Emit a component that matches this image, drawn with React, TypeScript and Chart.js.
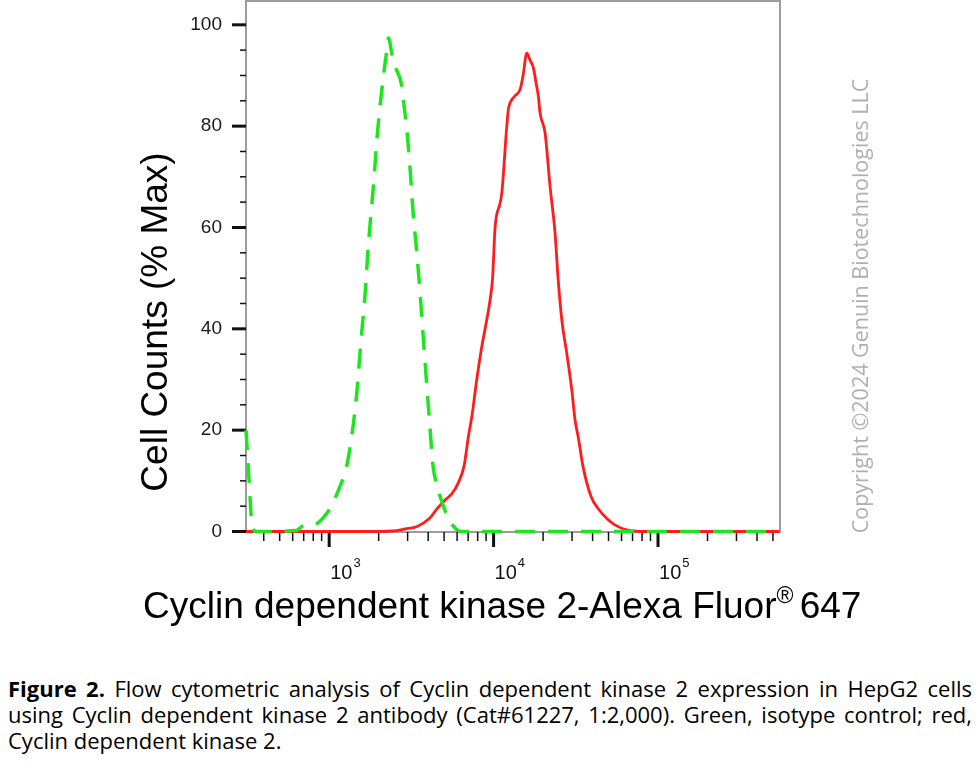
import { useEffect, useRef } from "react";
import { Chart, registerables } from "chart.js";

Chart.register(...registerables);

// fluorescence intensity (log axis) and % of max counts
const redX = [
  312, 1500, 2450, 2900, 3430, 4050, 4535, 5070, 5590, 6080, 6620, 7030, 7400,
  7900, 8480, 9090, 9520, 9860, 10210, 10950, 11220, 12030, 12300, 12600, 13510,
  14490, 15110, 15920, 16670, 17460, 18130, 18720, 19170, 20560, 22050, 23650,
  24670, 25980, 27860, 29880, 31290, 32770, 35000, 39150, 43780, 48970, 54630,
  64450, 79930, 552000,
];
const redY = [
  0, 0, 0.1, 0.5, 1.0, 2.5, 4.5, 6.2, 7.5, 9.5, 13, 18.8, 23, 30, 36.5, 41.8,
  45.7, 50, 60, 64.8, 66.8, 80, 83.3, 84.6, 86, 87.2, 90, 94.4, 93, 91.5, 88.5,
  85.9, 82.6, 78.7, 68.1, 58.9, 50, 41.8, 35.2, 28, 22, 18.5, 12.8, 6.9, 4.3,
  2.5, 1.3, 0.3, 0, 0,
];

const greenX = [
  312, 326, 340, 360, 630, 695, 822, 907, 1014, 1134, 1269, 1342, 1459, 1565,
  1655, 1726, 1800, 1877, 1958, 2071, 2159, 2243, 2294, 2415, 2519, 2767, 2857,
  2967, 3108, 3240, 3413, 3573, 3780, 4053, 4287, 4535, 4797, 5350, 5834, 6310,
  552000,
];
const greenY = [
  20, 10, 1, 0, 0.2, 1.1, 1.4, 2.5, 4.6, 8, 12.5, 16.8, 26, 38, 47, 56, 63, 70,
  78, 86, 91, 95, 97.4, 94, 91.8, 87.9, 83.9, 79.3, 71.4, 62.9, 55, 47, 36, 22.8,
  12.8, 9, 6.3, 2.3, 0.7, 0, 0,
];

const xMajorTicks = [1000, 10000, 100000];
const xTickExponents = ["3", "4", "5"];
const xMinorTicks = [
  400, 500, 600, 700, 800, 900, 2000, 3000, 4000, 5000, 6000, 7000, 8000, 9000,
  20000, 30000, 40000, 50000, 60000, 70000, 80000, 90000, 200000, 300000,
  400000, 500000,
];
const yTickValues = [0, 20, 40, 60, 80, 100];
const yMinorTicks = [5, 10, 15, 25, 30, 35, 45, 50, 55, 65, 70, 75, 85, 90, 95];

const yTitle = "Cell Counts (% Max)";
const xTitle = ["Cyclin dependent kinase 2-Alexa Fluor", "®", " 647"];
const copyright = "Copyright ©2024 Genuin Biotechnologies LLC";

const SANS = '"Liberation Sans", Arial, sans-serif';

const decorPlugin = {
  id: "decor",
  beforeDatasetsDraw(chart: any) {
    const { ctx, chartArea: a, scales } = chart;
    const xs = scales.x;
    const ys = scales.y;
    ctx.save();
    ctx.strokeStyle = "#9c9c9c";
    ctx.lineWidth = 2;
    ctx.strokeRect(a.left, a.top, a.right - a.left, a.bottom - a.top);

    ctx.strokeStyle = "#111";
    const tick = (x1: number, y1: number, x2: number, y2: number, w: number) => {
      ctx.lineWidth = w;
      ctx.beginPath();
      ctx.moveTo(x1, y1);
      ctx.lineTo(x2, y2);
      ctx.stroke();
    };
    yTickValues.forEach((v) => {
      const py = ys.getPixelForValue(v);
      tick(a.left - 14, py, a.left, py, 3);
    });
    yMinorTicks.forEach((v) => {
      const py = ys.getPixelForValue(v);
      tick(a.left - 6, py, a.left, py, 1.5);
    });
    xMajorTicks.forEach((v, i) => {
      const px = xs.getPixelForValue(v);
      tick(px, a.bottom, px, a.bottom + 15, 3);
      ctx.fillStyle = "#111";
      ctx.textAlign = "left";
      ctx.textBaseline = "alphabetic";
      ctx.font = `20px ${SANS}`;
      ctx.fillText("10", px + 1, a.bottom + 47);
      const w = ctx.measureText("10").width;
      ctx.font = `13px ${SANS}`;
      ctx.fillText(xTickExponents[i], px + 2 + w, a.bottom + 35);
    });
    xMinorTicks.forEach((v) => {
      const px = xs.getPixelForValue(v);
      tick(px, a.bottom, px, a.bottom + 9, 1.5);
    });
    ctx.restore();
  },
  afterDraw(chart: any) {
    const { ctx } = chart;
    ctx.save();
    ctx.fillStyle = "#000";
    ctx.textBaseline = "alphabetic";

    // y title
    ctx.save();
    ctx.translate(167, 322);
    ctx.rotate(-Math.PI / 2);
    ctx.font = `37px ${SANS}`;
    ctx.textAlign = "center";
    ctx.fillText(yTitle, 0, 0);
    ctx.restore();

    // x title with superscript
    ctx.textAlign = "left";
    let x = 143;
    ctx.font = `37px ${SANS}`;
    ctx.fillText(xTitle[0], x, 618);
    x += ctx.measureText(xTitle[0]).width;
    ctx.font = `23px ${SANS}`;
    ctx.fillText(xTitle[1], x, 603);
    x += ctx.measureText(xTitle[1]).width;
    ctx.font = `37px ${SANS}`;
    ctx.fillText(xTitle[2], x - 4, 618);

    // copyright
    ctx.save();
    ctx.translate(868, 306);
    ctx.rotate(-Math.PI / 2);
    ctx.font = '21.5px "Open Sans", sans-serif';
    ctx.fillStyle = "#b0b0b0";
    ctx.textAlign = "center";
    ctx.fillText(copyright, 0, 0);
    ctx.restore();

    ctx.restore();
  },
};

function FlowHistogram() {
  const canvasRef = useRef<HTMLCanvasElement | null>(null);
  const chartRef = useRef<Chart | null>(null);

  useEffect(() => {
    const canvas = canvasRef.current;
    if (!canvas) {
      return;
    }

    chartRef.current?.destroy();

    chartRef.current = new Chart(canvas, {
      type: "line",
      data: {
        datasets: [
          {
            label: "Isotype control",
            data: greenX.map((x, i) => ({ x, y: greenY[i] })),
            borderColor: "#1ee61e",
            borderWidth: 3.5,
            borderDash: [20, 13],
            pointRadius: 0,
            cubicInterpolationMode: "monotone",
            clip: 4,
          },
          {
            label: "Cyclin dependent kinase 2",
            data: redX.map((x, i) => ({ x, y: redY[i] })),
            borderColor: "#ff1c1c",
            borderWidth: 2.8,
            pointRadius: 0,
            cubicInterpolationMode: "monotone",
            clip: 4,
          },
        ],
      },
      options: {
        animation: false,
        responsive: true,
        maintainAspectRatio: false,
        layout: {
          padding: { left: 0, top: 1, right: 200, bottom: 0 },
        },
        plugins: {
          legend: { display: false },
          tooltip: { enabled: false },
        },
        scales: {
          x: {
            type: "logarithmic",
            min: 312,
            max: 552000,
            grid: { display: false, drawTicks: false },
            border: { display: false },
            ticks: { display: false },
            afterBuildTicks: (scale: any) => {
              scale.ticks = xMajorTicks.map((value) => ({ value }));
            },
            afterFit: (scale: any) => {
              scale.height = 108;
              scale.paddingLeft = 0;
              scale.paddingRight = 0;
            },
          },
          y: {
            type: "linear",
            min: -0.1,
            max: 104.7,
            grid: { display: false, drawTicks: false },
            border: { display: false },
            ticks: {
              padding: 24,
              color: "#1a1a1a",
              font: { family: SANS, size: 19 },
            },
            afterBuildTicks: (scale: any) => {
              scale.ticks = yTickValues.map((value) => ({ value }));
            },
            afterFit: (scale: any) => {
              scale.width = 246;
              scale.paddingTop = 0;
              scale.paddingBottom = 0;
            },
          },
        },
      },
      plugins: [decorPlugin],
    });

    return () => {
      chartRef.current?.destroy();
      chartRef.current = null;
    };
  }, []);

  return (
    <div style={{ position: "absolute", left: 0, top: 0, width: 980, height: 640 }}>
      <canvas ref={canvasRef} />
    </div>
  );
}

export default function App() {
  const line = {
    whiteSpace: "nowrap" as const,
    height: 26,
  };
  return (
    <div
      style={{
        position: "fixed",
        left: 0,
        top: 0,
        width: 980,
        height: 771,
        background: "#fff",
        overflow: "hidden",
      }}
    >
      <FlowHistogram />
      <div
        style={{
          position: "absolute",
          left: 8,
          top: 675,
          width: 964,
          fontFamily: '"Open Sans", sans-serif',
          fontSize: 22,
          lineHeight: "26px",
          color: "#000",
        }}
      >
        <div style={{ ...line, textAlign: "justify", textAlignLast: "justify" }}>
          <b>Figure 2.</b> Flow cytometric analysis of Cyclin dependent kinase 2
          expression in HepG2 cells
        </div>
        <div style={{ ...line, textAlign: "justify", textAlignLast: "justify" }}>
          using Cyclin dependent kinase 2 antibody (Cat#61227, 1:2,000). Green,
          isotype control; red,
        </div>
        <div style={line}>Cyclin dependent kinase 2.</div>
      </div>
    </div>
  );
}
